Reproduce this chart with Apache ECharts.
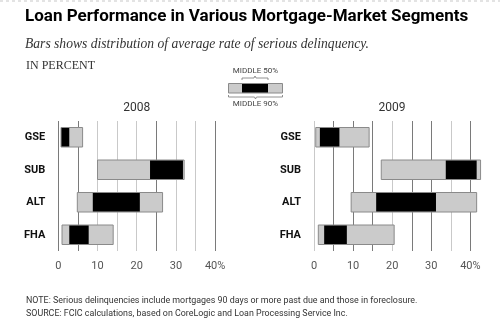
<!DOCTYPE html>
<html>
<head>
<meta charset="utf-8">
<script src="https://cdn.jsdelivr.net/npm/echarts@6/dist/echarts.min.js"></script>
<style>
html,body{margin:0;padding:0;background:#fff;}
#c{width:500px;height:323px;}
</style>
</head>
<body>
<div id="c"></div>
<script>
// ---- data ----
const categories = ['GSE', 'SUB', 'ALT', 'FHA'];
const years = ['2008', '2009'];
const xTicks = [0, 10, 20, 30, 40];
// 2008 distribution (percent)
const p5_2008  = [0.7, 10.0, 4.85, 0.95];
const p25_2008 = [0.8, 23.4, 8.8, 2.8];
const p75_2008 = [2.8, 31.8, 20.8, 7.75];
const p95_2008 = [6.2, 32.1, 26.6, 14.0];
// 2009 distribution (percent)
const p5_2009  = [0.45, 17.2, 9.5, 1.1];
const p25_2009 = [1.5, 33.7, 15.9, 2.6];
const p75_2009 = [6.5, 41.6, 31.2, 8.4];
const p95_2009 = [14.1, 42.6, 41.6, 20.5];

const NARROW = "'Liberation Sans Narrow', 'Roboto', sans-serif";
const SERIF = "'Liberation Serif', 'DejaVu Serif', serif";
const DARK = '#7a7a7a', LIGHT = '#c9c9c9';

function rows(p5, p25, p75, p95) {
  return categories.map((c, i) => [i, p5[i], p25[i], p75[i], p95[i]]);
}

function renderItem(params, api) {
  const cat = api.value(0);
  const a = api.coord([api.value(1), cat]);
  const b = api.coord([api.value(2), cat]);
  const c = api.coord([api.value(3), cat]);
  const d = api.coord([api.value(4), cat]);
  const h = api.size([0, 1])[1] * 0.6;
  return {
    type: 'group',
    children: [
      { type: 'rect', shape: { x: a[0], y: a[1] - h / 2, width: d[0] - a[0], height: h },
        style: { fill: '#cbcbcb', stroke: '#8a8a8a', lineWidth: 1 } },
      { type: 'rect', shape: { x: b[0], y: b[1] - h / 2 + 0.5, width: c[0] - b[0], height: h - 1 },
        style: { fill: '#000' } }
    ]
  };
}

function xAxis(idx, colors) {
  return {
    gridIndex: idx, type: 'value', min: 0, max: 40, interval: 5,
    axisLine: { show: false }, axisTick: { show: false },
    splitLine: { show: true, lineStyle: { color: colors, width: 1 } },
    axisLabel: {
      margin: 10, color: '#555', fontFamily: NARROW, fontSize: 11,
      formatter: v => xTicks.indexOf(v) < 0 ? '' : (v === 40 ? '40%' : String(v))
    }
  };
}
function yAxis(idx) {
  return {
    gridIndex: idx, type: 'category', data: categories, inverse: true,
    axisLine: { show: false }, axisTick: { show: false }, splitLine: { show: false },
    axisLabel: { margin: 13, color: '#111', fontFamily: NARROW, fontWeight: 'bold', fontSize: 11 }
  };
}

const chart = echarts.init(document.getElementById('c'), null, { renderer: 'canvas' });
chart.setOption({
  animation: false,
  backgroundColor: '#fff',
  grid: [
    { left: 58.3, top: 121, width: 156.8, height: 130 },
    { left: 314, top: 121, width: 156.4, height: 130 }
  ],
  xAxis: [
    xAxis(0, [DARK, DARK, LIGHT, LIGHT, LIGHT, DARK, LIGHT, LIGHT, DARK]),
    xAxis(1, [LIGHT, DARK, DARK, DARK, LIGHT, DARK, DARK, LIGHT, DARK])
  ],
  yAxis: [yAxis(0), yAxis(1)],
  series: [
    { type: 'custom', xAxisIndex: 0, yAxisIndex: 0, renderItem,
      encode: { y: 0, x: [1, 2, 3, 4] }, data: rows(p5_2008, p25_2008, p75_2008, p95_2008) },
    { type: 'custom', xAxisIndex: 1, yAxisIndex: 1, renderItem,
      encode: { y: 0, x: [1, 2, 3, 4] }, data: rows(p5_2009, p25_2009, p75_2009, p95_2009) }
  ],
  graphic: [
    { type: 'line', shape: { x1: 0, y1: 1, x2: 500, y2: 1 },
      style: { stroke: '#c8c8c8', lineWidth: 1, lineDash: [3, 3] } },
    { type: 'text', left: 25, top: 8,
      style: { text: 'Loan Performance in Various Mortgage-Market Segments', fill: '#000',
        font: "bold 17px " + NARROW } },
    { type: 'text', left: 25, top: 37,
      style: { text: 'Bars shows distribution of average rate of serious delinquency.', fill: '#333',
        font: "italic 13.6px " + SERIF } },
    { type: 'text', left: 26, top: 60,
      style: { text: 'IN PERCENT', fill: '#333', font: "12px " + SERIF } },
    { type: 'text', x: 136.7, y: 108,
      style: { text: years[0], fill: '#333', font: "12px " + NARROW, textAlign: 'center', textVerticalAlign: 'middle' } },
    { type: 'text', x: 392, y: 108,
      style: { text: years[1], fill: '#333', font: "12px " + NARROW, textAlign: 'center', textVerticalAlign: 'middle' } },
    // legend key
    { type: 'rect', shape: { x: 228.5, y: 83.5, width: 54, height: 9.5 },
      style: { fill: '#cbcbcb', stroke: '#8a8a8a', lineWidth: 1 } },
    { type: 'rect', shape: { x: 242, y: 84, width: 26, height: 8.5 }, style: { fill: '#000' } },
    { type: 'polyline', shape: { points: [[242, 80], [242, 78], [254, 78], [255, 76], [256, 78], [268, 78], [268, 80]] },
      style: { stroke: '#777', fill: null, lineWidth: 0.8 } },
    { type: 'polyline', shape: { points: [[228.5, 95], [228.5, 97], [254.5, 97], [255.5, 99], [256.5, 97], [282.5, 97], [282.5, 95]] },
      style: { stroke: '#777', fill: null, lineWidth: 0.8 } },
    { type: 'text', x: 255.5, y: 70.5,
      style: { text: 'MIDDLE 50%', fill: '#444', font: "8px " + NARROW, textAlign: 'center', textVerticalAlign: 'middle' } },
    { type: 'text', x: 255.5, y: 104,
      style: { text: 'MIDDLE 90%', fill: '#444', font: "8px " + NARROW, textAlign: 'center', textVerticalAlign: 'middle' } },
    // notes
    { type: 'text', left: 26, top: 296,
      style: { text: 'NOTE: Serious delinquencies include mortgages 90 days or more past due and those in foreclosure.',
        fill: '#333', font: "8.9px " + NARROW } },
    { type: 'text', left: 26, top: 309,
      style: { text: 'SOURCE: FCIC calculations, based on CoreLogic and Loan Processing Service Inc.',
        fill: '#333', font: "8.9px " + NARROW } }
  ]
});
</script>
</body>
</html>
